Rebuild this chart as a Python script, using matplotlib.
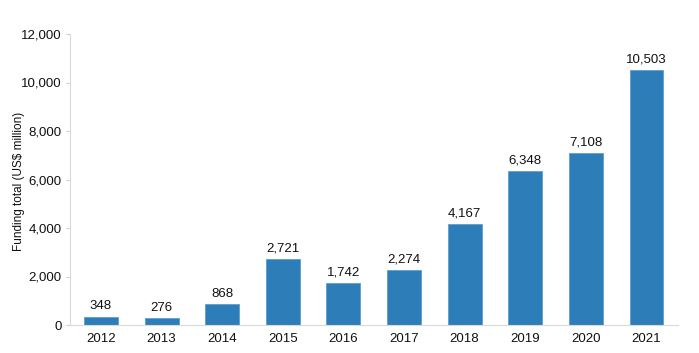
import matplotlib
matplotlib.use("Agg")
import matplotlib.pyplot as plt

years = ["2012", "2013", "2014", "2015", "2016", "2017", "2018", "2019", "2020", "2021"]
funding = [348, 276, 868, 2721, 1742, 2274, 4167, 6348, 7108, 10503]
yticks = [0, 2000, 4000, 6000, 8000, 10000, 12000]

plt.rcParams['font.family'] = ['Liberation Sans', 'DejaVu Sans']

fig = plt.figure(figsize=(6.99, 3.53), dpi=100)
ax = fig.add_axes([70/699, 1-325/353, (678-70)/699, (325-34)/353])

x = list(range(len(years)))
bars = ax.bar(x, funding, width=0.56, color='#2d7eb8', edgecolor='#5aa0d0', linewidth=0.6)
for xi, v in zip(x, funding):
    ax.text(xi, v + 180, f"{v:,}", ha='center', va='bottom', fontsize=9.5, color='#111111')

ax.set_xlim(-0.51, 9.52)
ax.set_ylim(0, 12000)
ax.set_xticks(x)
ax.set_xticklabels(years)
ax.set_yticks(yticks)
ax.set_yticklabels([f"{t:,}" for t in yticks])
ax.tick_params(axis='both', labelsize=9.5, colors='#111111')
ax.tick_params(axis='x', length=0, pad=6)
ax.tick_params(axis='y', length=3, color='#d0d0d0', pad=3)
for s in ['top', 'right']:
    ax.spines[s].set_visible(False)
for s in ['left', 'bottom']:
    ax.spines[s].set_color('#d9d9d9')
    ax.spines[s].set_linewidth(0.8)
ax.set_ylabel("Funding total (US$ million)", fontsize=8.5, color='#111111')
ax.yaxis.set_label_coords(-0.074, 0.495)

fig.savefig("out.png", dpi=100)
